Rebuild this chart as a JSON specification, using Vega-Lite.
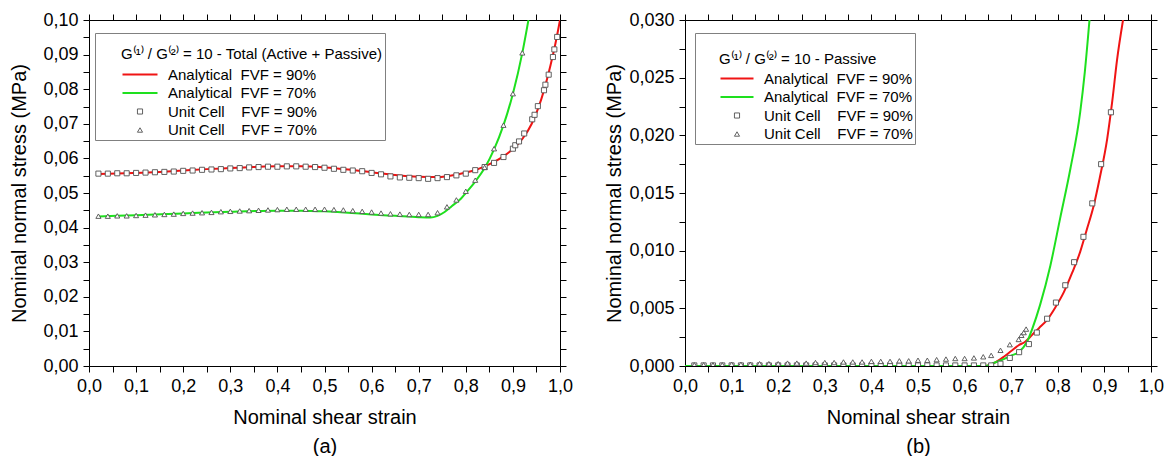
{
  "$schema": "https://vega.github.io/schema/vega-lite/v6.json",
  "padding": {"left": 9, "top": 11, "right": 5, "bottom": 0},
  "spacing": 31,
  "config": {
    "font": "Liberation Sans",
    "view": {"stroke": null},
    "axis": {"domainColor": "black", "tickColor": "black", "labelColor": "black", "titleColor": "black", "labelFontSize": 18, "titleFontSize": 20, "titleFontWeight": "normal", "grid": false, "tickSize": 6, "labelFlush": false, "labelOverlap": false, "labelBound": false, "labelPadding": 5}
  },
  "datasets": {
    "aLine": [
      {"s":"A90","x":0.02,"y":0.0555},{"s":"A90","x":0.06,"y":0.0556},{"s":"A90","x":0.1,"y":0.0558},{"s":"A90","x":0.15,"y":0.0561},{"s":"A90","x":0.2,"y":0.0565},{"s":"A90","x":0.25,"y":0.0569},{"s":"A90","x":0.3,"y":0.0572},{"s":"A90","x":0.35,"y":0.0575},{"s":"A90","x":0.4,"y":0.0577},{"s":"A90","x":0.45,"y":0.0577},{"s":"A90","x":0.5,"y":0.0574},{"s":"A90","x":0.55,"y":0.0568},{"s":"A90","x":0.6,"y":0.056},{"s":"A90","x":0.65,"y":0.0552},{"s":"A90","x":0.7,"y":0.0547},{"s":"A90","x":0.74,"y":0.0546},{"s":"A90","x":0.78,"y":0.0553},{"s":"A90","x":0.8,"y":0.0559},{"s":"A90","x":0.82,"y":0.0566},{"s":"A90","x":0.84,"y":0.0577},{"s":"A90","x":0.86,"y":0.059},{"s":"A90","x":0.88,"y":0.0606},{"s":"A90","x":0.9,"y":0.0627},{"s":"A90","x":0.92,"y":0.0656},{"s":"A90","x":0.94,"y":0.07},{"s":"A90","x":0.96,"y":0.077},{"s":"A90","x":0.98,"y":0.087},{"s":"A90","x":0.99,"y":0.093},{"s":"A90","x":1.0,"y":0.1},
      {"s":"A70","x":0.02,"y":0.0432},{"s":"A70","x":0.1,"y":0.0436},{"s":"A70","x":0.2,"y":0.0441},{"s":"A70","x":0.3,"y":0.0446},{"s":"A70","x":0.4,"y":0.0449},{"s":"A70","x":0.45,"y":0.0449},{"s":"A70","x":0.5,"y":0.0447},{"s":"A70","x":0.55,"y":0.0443},{"s":"A70","x":0.6,"y":0.0438},{"s":"A70","x":0.65,"y":0.0434},{"s":"A70","x":0.7,"y":0.043},{"s":"A70","x":0.725,"y":0.0429},{"s":"A70","x":0.74,"y":0.0434},{"s":"A70","x":0.755,"y":0.0445},{"s":"A70","x":0.77,"y":0.0462},{"s":"A70","x":0.79,"y":0.0484},{"s":"A70","x":0.8,"y":0.05},{"s":"A70","x":0.82,"y":0.0533},{"s":"A70","x":0.84,"y":0.0572},{"s":"A70","x":0.86,"y":0.0626},{"s":"A70","x":0.88,"y":0.0696},{"s":"A70","x":0.9,"y":0.0787},{"s":"A70","x":0.92,"y":0.0905},{"s":"A70","x":0.933,"y":0.1}
    ],
    "aPts": [
      {"s":"U90","x":0.02,"y":0.0556},{"s":"U90","x":0.04,"y":0.0556},{"s":"U90","x":0.06,"y":0.0557},{"s":"U90","x":0.08,"y":0.0557},{"s":"U90","x":0.1,"y":0.0558},{"s":"U90","x":0.12,"y":0.0559},{"s":"U90","x":0.14,"y":0.056},{"s":"U90","x":0.16,"y":0.0561},{"s":"U90","x":0.18,"y":0.0562},{"s":"U90","x":0.2,"y":0.0564},{"s":"U90","x":0.22,"y":0.0565},{"s":"U90","x":0.24,"y":0.0567},{"s":"U90","x":0.26,"y":0.0568},{"s":"U90","x":0.28,"y":0.0569},{"s":"U90","x":0.3,"y":0.0571},{"s":"U90","x":0.32,"y":0.0572},{"s":"U90","x":0.34,"y":0.0574},{"s":"U90","x":0.36,"y":0.0575},{"s":"U90","x":0.38,"y":0.0576},{"s":"U90","x":0.4,"y":0.0576},{"s":"U90","x":0.42,"y":0.0577},{"s":"U90","x":0.44,"y":0.0577},{"s":"U90","x":0.46,"y":0.0576},{"s":"U90","x":0.48,"y":0.0575},{"s":"U90","x":0.5,"y":0.0573},{"s":"U90","x":0.52,"y":0.057},{"s":"U90","x":0.54,"y":0.0567},{"s":"U90","x":0.56,"y":0.0565},{"s":"U90","x":0.58,"y":0.0563},{"s":"U90","x":0.6,"y":0.0558},{"s":"U90","x":0.62,"y":0.0554},{"s":"U90","x":0.64,"y":0.0548},{"s":"U90","x":0.66,"y":0.0545},{"s":"U90","x":0.68,"y":0.0544},{"s":"U90","x":0.7,"y":0.0543},{"s":"U90","x":0.72,"y":0.0541},{"s":"U90","x":0.74,"y":0.0543},{"s":"U90","x":0.76,"y":0.0546},{"s":"U90","x":0.78,"y":0.0551},{"s":"U90","x":0.8,"y":0.0556},{"s":"U90","x":0.82,"y":0.0566},{"s":"U90","x":0.84,"y":0.0575},{"s":"U90","x":0.86,"y":0.0587},{"s":"U90","x":0.88,"y":0.0604},{"s":"U90","x":0.9,"y":0.0628},{"s":"U90","x":0.905,"y":0.0638},{"s":"U90","x":0.913,"y":0.0649},{"s":"U90","x":0.924,"y":0.0672},{"s":"U90","x":0.941,"y":0.0713},{"s":"U90","x":0.946,"y":0.0726},{"s":"U90","x":0.953,"y":0.0751},{"s":"U90","x":0.966,"y":0.0797},{"s":"U90","x":0.969,"y":0.0813},{"s":"U90","x":0.976,"y":0.0842},{"s":"U90","x":0.985,"y":0.0893},{"s":"U90","x":0.988,"y":0.0915},{"s":"U90","x":0.994,"y":0.0951},
      {"s":"U70","x":0.02,"y":0.0433},{"s":"U70","x":0.04,"y":0.0433},{"s":"U70","x":0.06,"y":0.0434},{"s":"U70","x":0.08,"y":0.0434},{"s":"U70","x":0.1,"y":0.0435},{"s":"U70","x":0.12,"y":0.0436},{"s":"U70","x":0.14,"y":0.0437},{"s":"U70","x":0.16,"y":0.0438},{"s":"U70","x":0.18,"y":0.0439},{"s":"U70","x":0.2,"y":0.0441},{"s":"U70","x":0.22,"y":0.0442},{"s":"U70","x":0.24,"y":0.0443},{"s":"U70","x":0.26,"y":0.0444},{"s":"U70","x":0.28,"y":0.0446},{"s":"U70","x":0.3,"y":0.0447},{"s":"U70","x":0.32,"y":0.0448},{"s":"U70","x":0.34,"y":0.0449},{"s":"U70","x":0.36,"y":0.045},{"s":"U70","x":0.38,"y":0.0451},{"s":"U70","x":0.4,"y":0.0452},{"s":"U70","x":0.42,"y":0.0453},{"s":"U70","x":0.44,"y":0.0453},{"s":"U70","x":0.46,"y":0.0453},{"s":"U70","x":0.48,"y":0.0453},{"s":"U70","x":0.5,"y":0.0453},{"s":"U70","x":0.52,"y":0.0452},{"s":"U70","x":0.54,"y":0.0451},{"s":"U70","x":0.56,"y":0.0449},{"s":"U70","x":0.58,"y":0.0447},{"s":"U70","x":0.6,"y":0.0445},{"s":"U70","x":0.62,"y":0.0442},{"s":"U70","x":0.64,"y":0.044},{"s":"U70","x":0.66,"y":0.0439},{"s":"U70","x":0.68,"y":0.0438},{"s":"U70","x":0.7,"y":0.0438},{"s":"U70","x":0.72,"y":0.0438},{"s":"U70","x":0.74,"y":0.0443},{"s":"U70","x":0.76,"y":0.046},{"s":"U70","x":0.78,"y":0.048},{"s":"U70","x":0.8,"y":0.0505},{"s":"U70","x":0.82,"y":0.0537},{"s":"U70","x":0.84,"y":0.0574},{"s":"U70","x":0.86,"y":0.0628},{"s":"U70","x":0.88,"y":0.0696},{"s":"U70","x":0.9,"y":0.0787},{"s":"U70","x":0.92,"y":0.0905}
    ],
    "bLine": [
      {"s":"A90","x":0,"y":0},{"s":"A90","x":0.645,"y":0},{"s":"A90","x":0.665,"y":0.0003},{"s":"A90","x":0.684,"y":0.0008},{"s":"A90","x":0.7,"y":0.0013},{"s":"A90","x":0.716,"y":0.0018},{"s":"A90","x":0.73,"y":0.0021},{"s":"A90","x":0.745,"y":0.0027},{"s":"A90","x":0.76,"y":0.0033},{"s":"A90","x":0.777,"y":0.004},{"s":"A90","x":0.795,"y":0.0051},{"s":"A90","x":0.813,"y":0.0064},{"s":"A90","x":0.83,"y":0.008},{"s":"A90","x":0.848,"y":0.0099},{"s":"A90","x":0.862,"y":0.0118},{"s":"A90","x":0.877,"y":0.0139},{"s":"A90","x":0.89,"y":0.0163},{"s":"A90","x":0.906,"y":0.0197},{"s":"A90","x":0.917,"y":0.023},{"s":"A90","x":0.927,"y":0.0265},{"s":"A90","x":0.94,"y":0.03},
      {"s":"A70","x":0,"y":0},{"s":"A70","x":0.645,"y":0},{"s":"A70","x":0.665,"y":0.0003},{"s":"A70","x":0.684,"y":0.0006},{"s":"A70","x":0.7,"y":0.0009},{"s":"A70","x":0.716,"y":0.0012},{"s":"A70","x":0.734,"y":0.0021},{"s":"A70","x":0.745,"y":0.0032},{"s":"A70","x":0.762,"y":0.0053},{"s":"A70","x":0.784,"y":0.0087},{"s":"A70","x":0.805,"y":0.0128},{"s":"A70","x":0.827,"y":0.0171},{"s":"A70","x":0.848,"y":0.022},{"s":"A70","x":0.858,"y":0.0255},{"s":"A70","x":0.868,"y":0.03}
    ],
    "bPts": [
      {"s":"U90","x":0.02,"y":0.00005},{"s":"U90","x":0.04,"y":0.00005},{"s":"U90","x":0.06,"y":0.00005},{"s":"U90","x":0.08,"y":0.00005},{"s":"U90","x":0.1,"y":0.00005},{"s":"U90","x":0.12,"y":0.00005},{"s":"U90","x":0.14,"y":0.00005},{"s":"U90","x":0.16,"y":0.00005},{"s":"U90","x":0.18,"y":0.00005},{"s":"U90","x":0.2,"y":0.00005},{"s":"U90","x":0.22,"y":0.00005},{"s":"U90","x":0.24,"y":0.00005},{"s":"U90","x":0.26,"y":0.00005},{"s":"U90","x":0.28,"y":0.00005},{"s":"U90","x":0.3,"y":0.00005},{"s":"U90","x":0.32,"y":0.00005},{"s":"U90","x":0.34,"y":0.00005},{"s":"U90","x":0.36,"y":0.00005},{"s":"U90","x":0.38,"y":0.00005},{"s":"U90","x":0.4,"y":0.00005},{"s":"U90","x":0.42,"y":0.00005},{"s":"U90","x":0.44,"y":0.00005},{"s":"U90","x":0.46,"y":0.00005},{"s":"U90","x":0.48,"y":0.00005},{"s":"U90","x":0.5,"y":0.00005},{"s":"U90","x":0.52,"y":0.00005},{"s":"U90","x":0.54,"y":0.00005},{"s":"U90","x":0.56,"y":0.00005},{"s":"U90","x":0.58,"y":0.00005},{"s":"U90","x":0.6,"y":0.00005},{"s":"U90","x":0.62,"y":0.00005},{"s":"U90","x":0.64,"y":0.00005},{"s":"U90","x":0.657,"y":0.00005},{"s":"U90","x":0.677,"y":0.0002},{"s":"U90","x":0.697,"y":0.0007},{"s":"U90","x":0.717,"y":0.0012},{"s":"U90","x":0.738,"y":0.0019},{"s":"U90","x":0.755,"y":0.0029},{"s":"U90","x":0.777,"y":0.0041},{"s":"U90","x":0.796,"y":0.0055},{"s":"U90","x":0.816,"y":0.007},{"s":"U90","x":0.835,"y":0.009},{"s":"U90","x":0.855,"y":0.0112},{"s":"U90","x":0.874,"y":0.0141},{"s":"U90","x":0.893,"y":0.0175},{"s":"U90","x":0.914,"y":0.022},
      {"s":"U70","x":0.02,"y":0.0001},{"s":"U70","x":0.04,"y":0.0001},{"s":"U70","x":0.06,"y":0.0001},{"s":"U70","x":0.08,"y":0.0001},{"s":"U70","x":0.1,"y":0.00015},{"s":"U70","x":0.12,"y":0.00015},{"s":"U70","x":0.14,"y":0.00015},{"s":"U70","x":0.16,"y":0.0002},{"s":"U70","x":0.18,"y":0.0002},{"s":"U70","x":0.2,"y":0.0002},{"s":"U70","x":0.22,"y":0.00025},{"s":"U70","x":0.24,"y":0.00025},{"s":"U70","x":0.26,"y":0.00025},{"s":"U70","x":0.28,"y":0.0003},{"s":"U70","x":0.3,"y":0.0003},{"s":"U70","x":0.32,"y":0.0003},{"s":"U70","x":0.34,"y":0.00035},{"s":"U70","x":0.36,"y":0.00035},{"s":"U70","x":0.38,"y":0.00035},{"s":"U70","x":0.4,"y":0.0004},{"s":"U70","x":0.42,"y":0.0004},{"s":"U70","x":0.44,"y":0.0004},{"s":"U70","x":0.46,"y":0.00045},{"s":"U70","x":0.48,"y":0.00045},{"s":"U70","x":0.5,"y":0.0005},{"s":"U70","x":0.52,"y":0.0005},{"s":"U70","x":0.54,"y":0.00055},{"s":"U70","x":0.56,"y":0.0006},{"s":"U70","x":0.58,"y":0.00065},{"s":"U70","x":0.6,"y":0.00065},{"s":"U70","x":0.62,"y":0.0007},{"s":"U70","x":0.64,"y":0.0008},{"s":"U70","x":0.657,"y":0.00092},{"s":"U70","x":0.677,"y":0.00136},{"s":"U70","x":0.697,"y":0.00185},{"s":"U70","x":0.716,"y":0.0023},{"s":"U70","x":0.722,"y":0.00266},{"s":"U70","x":0.727,"y":0.0029},{"s":"U70","x":0.732,"y":0.0032}
    ]
  },
  "resolve": {"scale": {"color": "independent", "shape": "independent", "x": "independent", "y": "independent"}, "legend": {"color": "independent", "shape": "independent"}},
  "hconcat": [
    {
      "width": 471, "height": 346,
      "layer": [
        {
          "data": {"name": "aLine"},
          "mark": {"type": "line", "interpolate": "monotone", "strokeWidth": 2, "clip": true},
          "encoding": {
            "x": {"field": "x", "type": "quantitative", "scale": {"domain": [0, 1], "nice": false, "zero": false},
              "axis": {"values": [0,0.05,0.1,0.15,0.2,0.25,0.3,0.35,0.4,0.45,0.5,0.55,0.6,0.65,0.7,0.75,0.8,0.85,0.9,0.95,1],
                "labelExpr": "round(datum.value*100)%10==0 ? replace(format(datum.value,'.1f'),'.',',') : ''",
                "title": ["Nominal shear strain", "(a)"], "titleLineHeight": 29, "titlePadding": 12,
                "encode": {"ticks": {"update": {"y2": {"signal": "round(datum.value*100)%10==0 ? 6 : 3"}}}}}},
            "y": {"field": "y", "type": "quantitative", "scale": {"domain": [0, 0.1], "nice": false, "zero": false},
              "axis": {"values": [0,0.005,0.01,0.015,0.02,0.025,0.03,0.035,0.04,0.045,0.05,0.055,0.06,0.065,0.07,0.075,0.08,0.085,0.09,0.095,0.1],
                "labelExpr": "round(datum.value*1000)%10==0 ? replace(format(datum.value,'.2f'),'.',',') : ''",
                "title": "Nominal normal stress (MPa)", "titlePadding": 13,
                "encode": {"ticks": {"update": {"x2": {"signal": "round(datum.value*1000)%10==0 ? -6 : -3"}}}}}},
            "color": {"field": "s", "type": "nominal",
              "scale": {"domain": ["A90", "A70", "U90", "U70"], "range": ["#f01414", "#1ee01e", "#505050", "#505050"]},
              "legend": {
                "title": ["", "G\u207d\u00b9\u207e / G\u207d\u00b2\u207e = 10 - Total (Active + Passive)"],
                "orient": "none", "legendX": 6, "legendY": 13,
                "padding": 2, "strokeColor": "#808080", "fillColor": "white",
                "titleFontSize": 15, "titleFontWeight": "normal", "titleColor": "black", "titleLineHeight": 12, "titlePadding": 5, "titleLimit": 500,
                "labelFontSize": 15, "labelColor": "black", "labelLimit": 400,
                "labelExpr": "datum.value=='A90' ? 'Analytical\u00a0\u00a0FVF = 90%' : datum.value=='A70' ? 'Analytical\u00a0\u00a0FVF = 70%' : datum.value=='U90' ? 'Unit Cell\u00a0\u00a0\u00a0\u00a0FVF = 90%' : 'Unit Cell\u00a0\u00a0\u00a0\u00a0FVF = 70%'",
                "symbolSize": 100, "symbolStrokeWidth": 1.5, "symbolOffset": 35.5, "labelOffset": 20.5, "rowPadding": 2.5, "symbolType": "stroke",
                "encode": {
                  "title": {"update": {"dx": {"value": 24}}},
                  "symbols": {"update": {
                    "shape": {"signal": "datum.value=='U90' ? 'square' : datum.value=='U70' ? 'triangle-up' : 'stroke'"},
                    "size": {"signal": "datum.value=='U90' || datum.value=='U70' ? 26 : 1225"},
                    "strokeWidth": {"signal": "datum.value=='U90' || datum.value=='U70' ? 0.9 : 2"},
                    "fill": {"value": "white"}
                  }}
                }
              }}
          }
        },
        {
          "data": {"name": "aPts"},
          "mark": {"type": "point", "filled": false, "fill": "white", "opacity": 1, "strokeWidth": 0.9, "size": 26, "clip": true},
          "encoding": {
            "x": {"field": "x", "type": "quantitative", "scale": {"domain": [0, 1], "nice": false, "zero": false}, "axis": null},
            "y": {"field": "y", "type": "quantitative", "scale": {"domain": [0, 0.1], "nice": false, "zero": false}, "axis": null},
            "color": {"field": "s", "type": "nominal"},
            "shape": {"field": "s", "type": "nominal", "scale": {"domain": ["U90", "U70"], "range": ["square", "triangle-up"]}, "legend": null}
          }
        },
        {
          "data": {"name": "aLine"},
          "mark": {"type": "point", "opacity": 0},
          "encoding": {
            "x": {"field": "x", "type": "quantitative", "scale": {"domain": [0, 1], "nice": false, "zero": false},
              "axis": {"orient": "top", "labels": false, "title": null, "values": [0,0.05,0.1,0.15,0.2,0.25,0.3,0.35,0.4,0.45,0.5,0.55,0.6,0.65,0.7,0.75,0.8,0.85,0.9,0.95,1],
                "encode": {"ticks": {"update": {"y2": {"signal": "round(datum.value*100)%10==0 ? -6 : -3"}}}}}},
            "y": {"field": "y", "type": "quantitative", "scale": {"domain": [0, 0.1], "nice": false, "zero": false},
              "axis": {"orient": "right", "labels": false, "title": null, "values": [0,0.005,0.01,0.015,0.02,0.025,0.03,0.035,0.04,0.045,0.05,0.055,0.06,0.065,0.07,0.075,0.08,0.085,0.09,0.095,0.1],
                "encode": {"ticks": {"update": {"x2": {"signal": "round(datum.value*1000)%10==0 ? 6 : 3"}}}}}}
          }
        }
      ],
      "resolve": {"scale": {"x": "independent", "y": "independent"}, "axis": {"x": "independent", "y": "independent"}}
    },
    {
      "width": 466, "height": 346,
      "layer": [
        {
          "data": {"name": "bLine"},
          "mark": {"type": "line", "interpolate": "monotone", "strokeWidth": 2, "clip": true},
          "encoding": {
            "x": {"field": "x", "type": "quantitative", "scale": {"domain": [0, 1], "nice": false, "zero": false},
              "axis": {"values": [0,0.05,0.1,0.15,0.2,0.25,0.3,0.35,0.4,0.45,0.5,0.55,0.6,0.65,0.7,0.75,0.8,0.85,0.9,0.95,1],
                "labelExpr": "round(datum.value*100)%10==0 ? replace(format(datum.value,'.1f'),'.',',') : ''",
                "title": ["Nominal shear strain", "(b)"], "titleLineHeight": 29, "titlePadding": 12,
                "encode": {"ticks": {"update": {"y2": {"signal": "round(datum.value*100)%10==0 ? 6 : 3"}}}}}},
            "y": {"field": "y", "type": "quantitative", "scale": {"domain": [0, 0.03], "nice": false, "zero": false},
              "axis": {"values": [0,0.0025,0.005,0.0075,0.01,0.0125,0.015,0.0175,0.02,0.0225,0.025,0.0275,0.03],
                "labelExpr": "round(datum.value*10000)%50==0 ? replace(format(datum.value,'.3f'),'.',',') : ''",
                "title": "Nominal normal stress (MPa)", "titlePadding": 4,
                "encode": {"ticks": {"update": {"x2": {"signal": "round(datum.value*10000)%50==0 ? -6 : -3"}}}}}},
            "color": {"field": "s", "type": "nominal",
              "scale": {"domain": ["A90", "A70", "U90", "U70"], "range": ["#f01414", "#1ee01e", "#505050", "#505050"]},
              "legend": {
                "title": ["", "G\u207d\u00b9\u207e / G\u207d\u00b2\u207e = 10 - Passive"],
                "orient": "none", "legendX": 10, "legendY": 13,
                "padding": 2, "strokeColor": "#808080", "fillColor": "white",
                "titleFontSize": 15, "titleFontWeight": "normal", "titleColor": "black", "titleLineHeight": 17, "titlePadding": 4, "titleLimit": 500,
                "labelFontSize": 15, "labelColor": "black", "labelLimit": 400,
                "labelExpr": "datum.value=='A90' ? 'Analytical\u00a0\u00a0FVF = 90%' : datum.value=='A70' ? 'Analytical\u00a0\u00a0FVF = 70%' : datum.value=='U90' ? 'Unit Cell\u00a0\u00a0\u00a0\u00a0FVF = 90%' : 'Unit Cell\u00a0\u00a0\u00a0\u00a0FVF = 70%'",
                "symbolSize": 100, "symbolStrokeWidth": 1.5, "symbolOffset": 32.5, "labelOffset": 19.5, "rowPadding": 2.5, "symbolType": "stroke",
                "encode": {
                  "title": {"update": {"dx": {"value": 22}}},
                  "symbols": {"update": {
                    "shape": {"signal": "datum.value=='U90' ? 'square' : datum.value=='U70' ? 'triangle-up' : 'stroke'"},
                    "size": {"signal": "datum.value=='U90' || datum.value=='U70' ? 26 : 1089"},
                    "strokeWidth": {"signal": "datum.value=='U90' || datum.value=='U70' ? 0.9 : 2"},
                    "fill": {"value": "white"}
                  }}
                }
              }}
          }
        },
        {
          "data": {"name": "bPts"},
          "mark": {"type": "point", "filled": false, "fill": "white", "opacity": 1, "strokeWidth": 0.9, "size": 26, "clip": true},
          "encoding": {
            "x": {"field": "x", "type": "quantitative", "scale": {"domain": [0, 1], "nice": false, "zero": false}, "axis": null},
            "y": {"field": "y", "type": "quantitative", "scale": {"domain": [0, 0.03], "nice": false, "zero": false}, "axis": null},
            "color": {"field": "s", "type": "nominal"},
            "shape": {"field": "s", "type": "nominal", "scale": {"domain": ["U90", "U70"], "range": ["square", "triangle-up"]}, "legend": null}
          }
        },
        {
          "data": {"name": "bLine"},
          "mark": {"type": "point", "opacity": 0},
          "encoding": {
            "x": {"field": "x", "type": "quantitative", "scale": {"domain": [0, 1], "nice": false, "zero": false},
              "axis": {"orient": "top", "labels": false, "title": null, "values": [0,0.05,0.1,0.15,0.2,0.25,0.3,0.35,0.4,0.45,0.5,0.55,0.6,0.65,0.7,0.75,0.8,0.85,0.9,0.95,1],
                "encode": {"ticks": {"update": {"y2": {"signal": "round(datum.value*100)%10==0 ? -6 : -3"}}}}}},
            "y": {"field": "y", "type": "quantitative", "scale": {"domain": [0, 0.03], "nice": false, "zero": false},
              "axis": {"orient": "right", "labels": false, "title": null, "values": [0,0.0025,0.005,0.0075,0.01,0.0125,0.015,0.0175,0.02,0.0225,0.025,0.0275,0.03],
                "encode": {"ticks": {"update": {"x2": {"signal": "round(datum.value*10000)%50==0 ? 6 : 3"}}}}}}
          }
        }
      ],
      "resolve": {"scale": {"x": "independent", "y": "independent"}, "axis": {"x": "independent", "y": "independent"}}
    }
  ]
}
